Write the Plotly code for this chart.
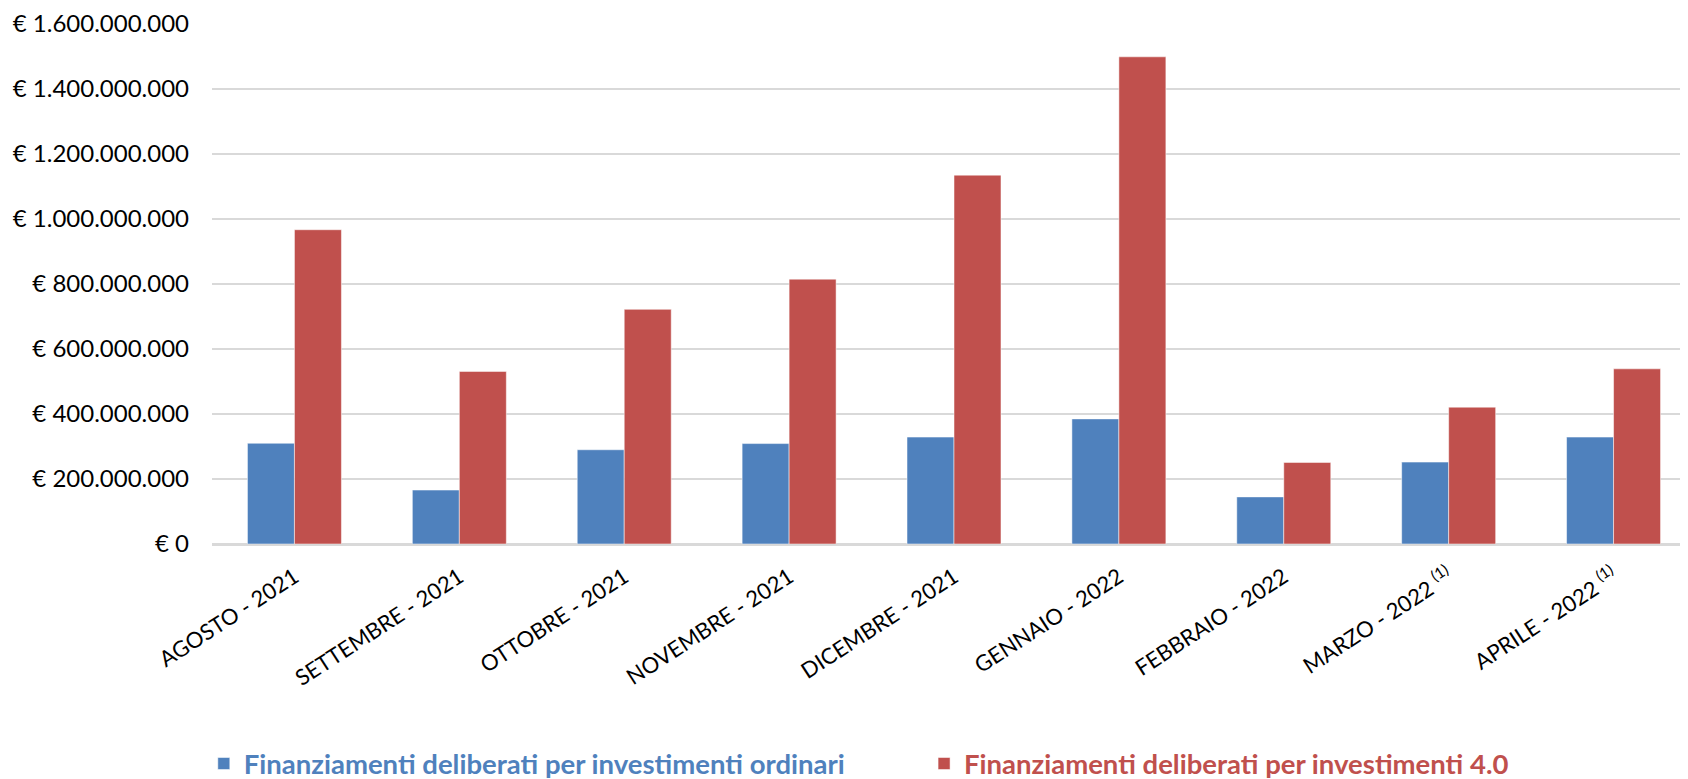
import plotly.graph_objects as go

categories = [
    "AGOSTO - 2021", "SETTEMBRE - 2021", "OTTOBRE - 2021", "NOVEMBRE - 2021",
    "DICEMBRE - 2021", "GENNAIO - 2022", "FEBBRAIO - 2022",
    "MARZO - 2022 <sup>(1)</sup>", "APRILE - 2022 <sup>(1)</sup>",
]
ordinari = [310e6, 166e6, 290e6, 309e6, 329e6, 385e6, 145e6, 252e6, 329e6]
inv40 = [967e6, 531e6, 722e6, 815e6, 1135e6, 1499e6, 251e6, 421e6, 539e6]

name_ord = "Finanziamenti deliberati per investimenti ordinari"
name_40 = "Finanziamenti deliberati per investimenti 4.0"
blue = "#4F81BD"
red = "#C0504D"

fig = go.Figure()
fig.add_trace(go.Bar(
    x=categories, y=ordinari, legend="legend",
    name=f"<span style='color:{blue}'><b>{name_ord}</b></span>",
    marker=dict(color=blue, line=dict(color="rgba(255,255,255,0.5)", width=1)),
))
fig.add_trace(go.Bar(
    x=categories, y=inv40, legend="legend2",
    name=f"<span style='color:{red}'><b>{name_40}</b></span>",
    marker=dict(color=red, line=dict(color="rgba(255,255,255,0.5)", width=1)),
))

legend_common = dict(
    orientation="h", xref="container", yref="container",
    y=0.03, xanchor="left", yanchor="middle",
    font=dict(size=27.5), bgcolor="rgba(0,0,0,0)",
)

fig.update_layout(
    width=1688, height=779,
    paper_bgcolor="white", plot_bgcolor="white",
    barmode="group", bargap=0.43, bargroupgap=0,
    separators=",.",
    font=dict(family="Lato, Carlito, Calibri, sans-serif", size=21, color="black"),
    margin=dict(l=204, r=0, t=16, b=243, autoexpand=False),
    showlegend=True,
    legend=dict(x=0.116, **legend_common),
    legend2=dict(x=0.5427, **legend_common),
)
fig.update_yaxes(
    automargin=False,
    range=[0, 1.6e9], dtick=200e6,
    tickprefix="€ ", tickformat=",.0f",
    showgrid=True, gridcolor="#D9D9D9", gridwidth=1.5,
    zeroline=True, zerolinecolor="#D9D9D9", zerolinewidth=1.5,
    showline=False, ticks="",
    ticklabelstandoff=22, ticklabeloverflow="allow",
    tickfont=dict(size=24),
)
fig.update_xaxes(
    automargin=False,
    tickangle=-33, showline=True, linecolor="#D9D9D9", linewidth=1.5,
    ticks="", tickfont=dict(size=22), ticklabelstandoff=10,
)

fig.write_html("out.html")
